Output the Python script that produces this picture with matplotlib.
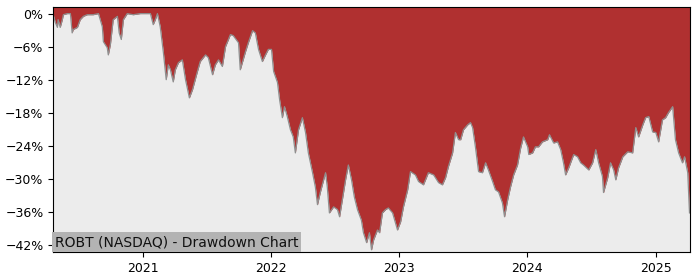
import matplotlib
matplotlib.use("Agg")
import matplotlib.pyplot as plt
import matplotlib.dates as mdates
from matplotlib.ticker import FuncFormatter
import pandas as pd

TICKER = "ROBT (NASDAQ)"

# drawdown from running peak, in percent
dates = [
    "2020-04-20", "2020-04-26", "2020-05-02", "2020-05-04", "2020-05-10", "2020-05-16",
    "2020-05-19", "2020-05-30", "2020-06-08", "2020-06-13", "2020-06-16", "2020-06-28",
    "2020-07-06", "2020-07-15", "2020-07-26", "2020-08-12", "2020-08-27", "2020-09-07",
    "2020-09-10", "2020-09-21", "2020-09-24", "2020-09-30", "2020-10-08", "2020-10-20",
    "2020-10-25", "2020-10-31", "2020-11-06", "2020-11-17", "2020-12-04", "2020-12-24",
    "2021-01-22", "2021-01-30", "2021-02-05", "2021-02-11", "2021-02-19", "2021-02-28",
    "2021-03-08", "2021-03-14", "2021-03-20", "2021-03-28", "2021-04-03", "2021-04-12",
    "2021-04-23", "2021-05-02", "2021-05-13", "2021-05-22", "2021-06-05", "2021-06-13",
    "2021-06-28", "2021-07-06", "2021-07-18", "2021-07-26", "2021-08-04", "2021-08-15",
    "2021-08-24", "2021-09-07", "2021-09-15", "2021-09-30", "2021-10-05", "2021-10-20",
    "2021-10-28", "2021-11-09", "2021-11-17", "2021-11-26", "2021-12-07", "2021-12-16",
    "2021-12-24", "2022-01-02", "2022-01-08", "2022-01-19", "2022-01-25", "2022-02-02",
    "2022-02-08", "2022-02-16", "2022-02-25", "2022-03-05", "2022-03-11", "2022-03-20",
    "2022-03-31", "2022-04-09", "2022-04-17", "2022-04-29", "2022-05-07", "2022-05-13",
    "2022-05-21", "2022-06-05", "2022-06-10", "2022-06-16", "2022-06-28", "2022-07-09",
    "2022-07-15", "2022-07-23", "2022-08-01", "2022-08-09", "2022-08-18", "2022-08-26",
    "2022-09-04", "2022-09-15", "2022-09-21", "2022-09-30", "2022-10-08", "2022-10-14",
    "2022-10-20", "2022-10-31", "2022-11-06", "2022-11-14", "2022-11-23", "2022-12-01",
    "2022-12-13", "2022-12-19", "2022-12-27", "2023-01-05", "2023-01-13", "2023-01-25",
    "2023-02-02", "2023-02-16", "2023-02-25", "2023-03-11", "2023-03-25", "2023-04-09",
    "2023-04-23", "2023-05-04", "2023-05-13", "2023-05-21", "2023-06-02", "2023-06-10",
    "2023-06-19", "2023-06-25", "2023-07-03", "2023-07-15", "2023-07-23", "2023-07-29",
    "2023-08-06", "2023-08-15", "2023-08-26", "2023-09-04", "2023-09-12", "2023-09-24",
    "2023-10-02", "2023-10-11", "2023-10-22", "2023-10-28", "2023-11-06", "2023-11-14",
    "2023-11-23", "2023-12-04", "2023-12-13", "2023-12-21", "2024-01-02", "2024-01-05",
    "2024-01-16", "2024-01-24", "2024-02-02", "2024-02-13", "2024-02-28", "2024-03-04",
    "2024-03-16", "2024-03-27", "2024-04-05", "2024-04-13", "2024-04-19", "2024-04-28",
    "2024-05-12", "2024-05-23", "2024-06-01", "2024-06-09", "2024-06-24", "2024-07-05",
    "2024-07-14", "2024-07-22", "2024-08-02", "2024-08-05", "2024-08-17", "2024-08-25",
    "2024-09-03", "2024-09-09", "2024-09-17", "2024-09-29", "2024-10-13", "2024-10-27",
    "2024-11-05", "2024-11-13", "2024-11-25", "2024-12-03", "2024-12-12", "2024-12-23",
    "2025-01-01", "2025-01-09", "2025-01-20", "2025-01-29", "2025-02-06", "2025-02-18",
    "2025-02-26", "2025-03-07", "2025-03-18", "2025-03-24", "2025-04-02", "2025-04-07",
]
drawdown = [
    -0.2, -1.6, -2.5, -1.1, -2.5, -1.1,
    -0.2, 0.0, 0.0, -3.5, -2.9, -2.5,
    -1.1, -0.5, -0.2, -0.2, 0.0, -2.4,
    -5.1, -6.2, -7.5, -5.6, -1.1, -0.5,
    -3.5, -4.7, -1.1, 0.0, -0.2, 0.0,
    0.0, -2.0, -1.1, 0.0, -2.4, -7.1,
    -12.0, -9.3, -10.2, -12.4, -10.2, -8.9,
    -8.4, -12.0, -15.3, -13.8, -10.5, -8.7,
    -7.5, -8.0, -11.1, -9.3, -8.4, -9.6,
    -6.0, -3.8, -4.0, -5.3, -10.2, -6.9,
    -5.3, -3.1, -3.5, -6.5, -8.7, -7.5,
    -6.5, -6.5, -10.5, -12.5, -15.6, -18.9,
    -16.9, -18.7, -21.1, -22.4, -25.3, -21.1,
    -18.9, -21.6, -25.3, -28.9, -31.5, -34.7,
    -32.5, -28.9, -31.5, -36.2, -35.1, -35.6,
    -36.9, -33.8, -30.2, -27.5, -30.2, -33.3,
    -35.6, -37.5, -39.8, -41.6, -39.8, -42.9,
    -41.1, -39.3, -39.8, -36.2, -35.6, -35.3,
    -36.2, -37.5, -39.3, -37.8, -35.1, -32.0,
    -28.7, -29.3, -30.5, -31.1, -28.9, -29.3,
    -30.7, -31.1, -29.8, -27.8, -25.3, -21.6,
    -22.9, -22.9, -21.1, -20.2, -19.8, -20.7,
    -24.2, -28.7, -28.9, -27.1, -28.4, -30.5,
    -32.0, -32.4, -34.4, -36.9, -33.8, -31.5,
    -29.3, -27.5, -24.4, -22.4, -24.2, -25.6,
    -25.3, -24.2, -24.2, -23.3, -22.9, -22.0,
    -23.5, -23.3, -24.7, -27.1, -29.3, -28.0,
    -25.6, -26.0, -27.1, -27.5, -28.4, -27.1,
    -24.7, -27.1, -29.6, -32.5, -29.8, -27.1,
    -28.4, -30.2, -28.0, -26.0, -25.1, -25.3,
    -20.7, -22.4, -20.2, -18.9, -18.7, -21.5,
    -21.6, -23.3, -19.3, -18.9, -18.0, -16.9,
    -22.9, -25.3, -27.1, -26.0, -28.9, -36.2,
]

x = pd.to_datetime(dates)
y_top = 1.2

fig = plt.figure(figsize=(7, 2.8), dpi=100)
ax = fig.add_axes([0.076, 0.1, 0.91, 0.875])
ax.set_facecolor("#ececec")

# red area runs from the drawdown line up to the top of the plot
ax.fill_between(x, drawdown, y_top, color="#b03030", linewidth=0)
ax.plot(x, drawdown, color="#8f8f8f", lw=0.9)

ax.set_xlim(x[0], x[-1] + pd.Timedelta(days=2))
ax.set_ylim(-43.3, y_top)
ax.set_yticks(range(0, -43, -6))
ax.yaxis.set_major_formatter(FuncFormatter(lambda v, _: f"{v:.0f}%".replace("-", "\u2212")))
ax.xaxis.set_major_locator(mdates.YearLocator())
ax.xaxis.set_major_formatter(mdates.DateFormatter("%Y"))
ax.tick_params(labelsize=9)

ax.text(0.003, 0.012, f"{TICKER} - Drawdown Chart", transform=ax.transAxes,
        fontsize=10, color="#111111", ha="left", va="bottom",
        bbox=dict(facecolor="#b3b3b3", edgecolor="none", pad=2))

fig.savefig("out.png", dpi=100)
